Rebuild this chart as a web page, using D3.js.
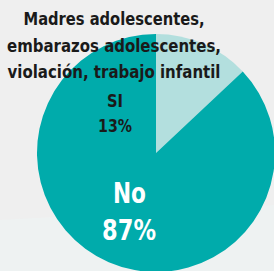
<!DOCTYPE html>
<html><head><meta charset="utf-8">
<script src="https://cdn.jsdelivr.net/npm/d3@7"></script>
<style>
html,body{margin:0;padding:0;background:#efefef;}
svg{display:block;}
text{font-family:"DejaVu Sans Condensed","DejaVu Sans",sans-serif;font-weight:bold;font-stretch:condensed;}
</style></head>
<body>
<script>
const categories = ["SI", "No"];
const values = [13, 87];
const colors = ["#b3dfde", "#00abab"];
const titleLines = ["Madres adolescentes,", "embarazos adolescentes,", "violación, trabajo infantil"];

const W = 274, H = 271;
const svg = d3.select("body").append("svg").attr("width", W).attr("height", H);

svg.append("rect").attr("x",0).attr("y",0).attr("width",W).attr("height",H).attr("fill","#efefef");
svg.append("path").attr("d","M0,220 L274,205 L274,271 L0,271 Z").attr("fill","#eef2f2");

const cx = 156, cy = 153, r = 119;
const pie = d3.pie().sort(null).value(d => d.v);
const arc = d3.arc().innerRadius(0).outerRadius(r);
const data = pie(categories.map((c, i) => ({c, v: values[i]})));

const g = svg.append("g").attr("transform", `translate(${cx},${cy})`);
g.selectAll("path").data(data).enter().append("path")
  .attr("d", arc).attr("fill", (d, i) => colors[i]);

const titleWidths = [181, 214, 213];
svg.append("g").selectAll("text").data(titleLines).enter().append("text")
  .attr("x", 114).attr("y", (d, i) => 25 + i * 26.5)
  .attr("text-anchor", "middle").attr("font-size", 18).attr("fill", "#1a1a1a")
  .attr("textLength", (d, i) => titleWidths[i]).attr("lengthAdjust", "spacingAndGlyphs")
  .text(d => d);

function label(txt, x, y, size, fill, w) {
  svg.append("text").attr("x", x).attr("y", y).attr("text-anchor", "middle")
    .attr("font-size", size).attr("fill", fill)
    .attr("textLength", w).attr("lengthAdjust", "spacingAndGlyphs").text(txt);
}
label(categories[0], 115, 107, 18, "#1a1a1a", 16);
label(values[0] + "%", 115, 132, 18, "#1a1a1a", 34);
label(categories[1], 129.5, 203, 28.5, "#ffffff", 33);
label(values[1] + "%", 129, 240, 28.5, "#ffffff", 54);
</script>
</body></html>
